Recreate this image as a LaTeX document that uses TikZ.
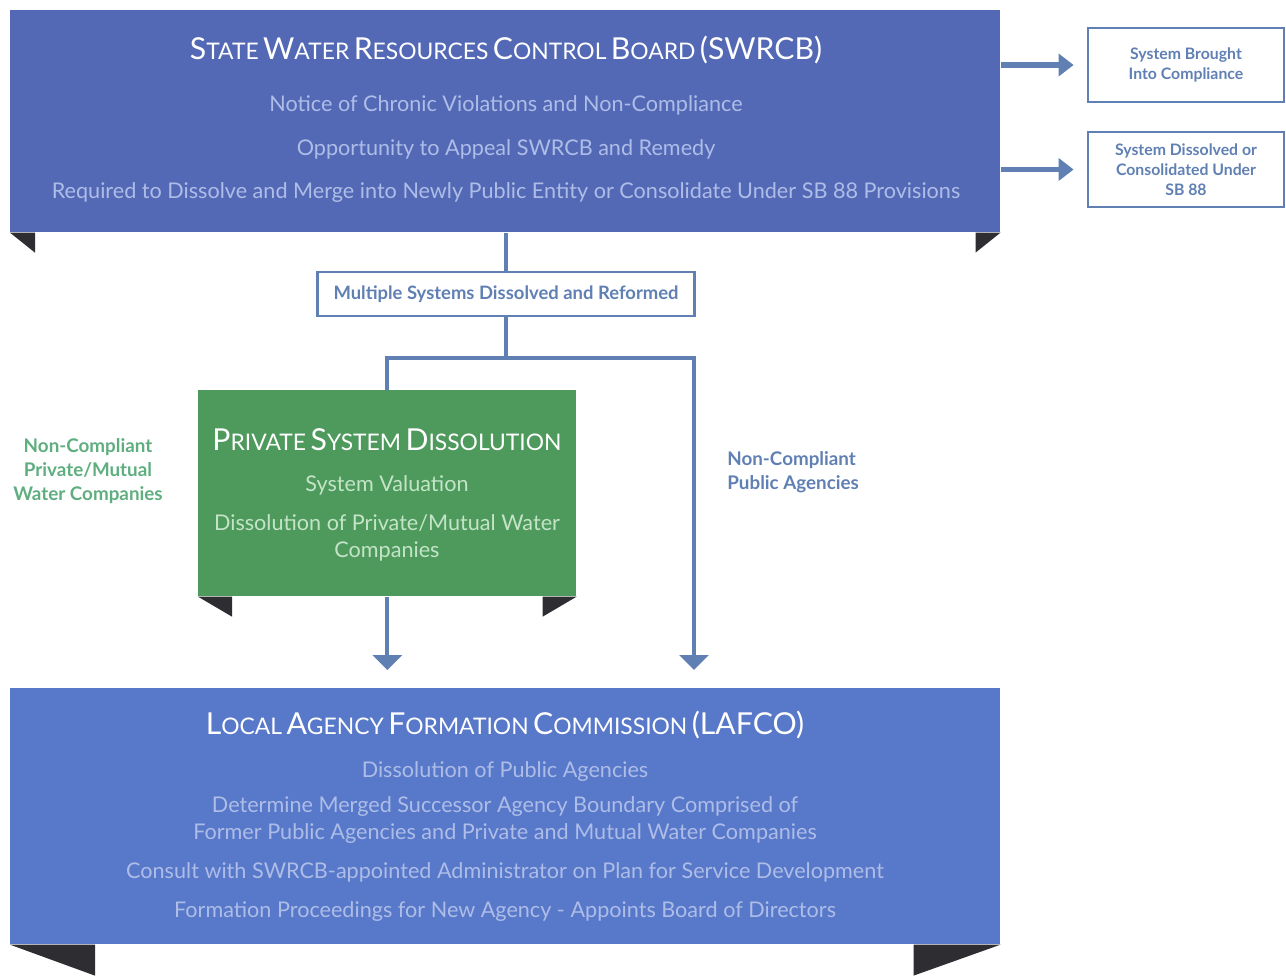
\documentclass[tikz,border=0pt]{standalone}
\usepackage{fontspec}
\setmainfont{Lato}
\usetikzlibrary{arrows.meta,positioning,calc}
\definecolor{azulpainel}{HTML}{5469B5}
\definecolor{azullafco}{HTML}{5878C9}
\definecolor{verdepainel}{HTML}{4E9A5C}
\definecolor{dobra}{HTML}{2E2E32}
\definecolor{linha}{HTML}{6080B4}
\definecolor{textoazul}{HTML}{AEBDE8}
\definecolor{textoverde}{HTML}{C4E4C8}
\definecolor{rotuloverde}{HTML}{5FAE80}
\tikzset{
  painel/.style={rectangle, fill=azulpainel, inner sep=0pt, anchor=north west},
  titulo/.style={text=white, inner sep=0pt},
  item/.style={text=textoazul, inner sep=0pt, align=center, font=\fontsize{12.3pt}{15pt}\selectfont},
  caixa/.style={rectangle, draw=linha, line width=1.6pt, fill=white, inner sep=0pt, align=center,
    text=linha, font=\bfseries\fontsize{9pt}{11.3pt}\selectfont},
  rotulo/.style={inner sep=0pt, font=\bfseries\fontsize{10.7pt}{13.8pt}\selectfont},
  ligacao/.style={draw=linha, line width=2.2pt},
  seta/.style={ligacao, -{Triangle[length=0.3cm, width=0.58cm]}},
  setagrossa/.style={draw=linha, line width=3pt, -{Triangle[length=0.3cm, width=0.44cm]}},
  aba/.style={fill=dobra},
}
\newcommand{\versal}[2]{{\fontsize{17.2pt}{20pt}\selectfont #1}{\fontsize{13pt}{16pt}\selectfont #2}}

\begin{document}
\begin{tikzpicture}[x=0.02cm, y=-0.02cm]
  \useasboundingbox (0,0) rectangle (1286,975);
  % paineis
  \node[painel, minimum width=19.8cm, minimum height=4.44cm] (swrcb) at (10,10) {};
  \node[painel, fill=verdepainel, minimum width=7.56cm, minimum height=4.12cm] (privado) at (198,390) {};
  \node[painel, fill=azullafco, minimum width=19.8cm, minimum height=5.12cm] (lafco) at (10,688) {};
  \fill[aba] (swrcb.south west) -- ++(25,0) -- ++(0,20) -- cycle;
  \fill[aba] (swrcb.south east) -- ++(-25,0) -- ++(0,20) -- cycle;
  \fill[aba] (privado.south west) -- ++(34,0) -- ++(0,20) -- cycle;
  \fill[aba] (privado.south east) -- ++(-34,0) -- ++(0,20) -- cycle;
  \fill[aba] (lafco.south west) -- ++(85,0) -- ++(0,31) -- cycle;
  \fill[aba] (lafco.south east) -- ++(-87,0) -- ++(0,31) -- cycle;
  % textos SWRCB
  \node[titulo] (t1) at (506,50) {\versal{S}{TATE} \versal{W}{ATER} \versal{R}{ESOURCES} \versal{C}{ONTROL} \versal{B}{OARD} {\fontsize{17.2pt}{20pt}\selectfont (SWRCB)}};
  \node[item] (t1a) at (506,105) {Notice of Chronic Violations and Non-Compliance};
  \node[item] (t1b) at (506,149) {Opportunity to Appeal SWRCB and Remedy};
  \node[item] (t1c) at (506,193) {Required to Dissolve and Merge into Newly Public Entity or Consolidate Under SB 88 Provisions};
  % textos privado
  \node[titulo] (t2) at (387,440) {\versal{P}{RIVATE} \versal{S}{YSTEM} \versal{D}{ISSOLUTION}};
  \node[item, text=textoverde] (t2a) at (387,485) {System Valuation};
  \node[item, text=textoverde] (t2b) at (387,538) {Dissolution of Private/Mutual Water\\Companies};
  % textos LAFCO
  \node[titulo] (t3) at (505,725) {\versal{L}{OCAL} \versal{A}{GENCY} \versal{F}{ORMATION} \versal{C}{OMMISSION} {\fontsize{17.2pt}{20pt}\selectfont (LAFCO)}};
  \node[item] (t3a) at (505,772) {Dissolution of Public Agencies};
  \node[item] (t3b) at (505,820) {Determine Merged Successor Agency Boundary Comprised of\\Former Public Agencies and Private and Mutual Water Companies};
  \node[item] (t3c) at (505,872) {Consult with SWRCB-appointed Administrator on Plan for Service Development};
  \node[item] (t3d) at (505,912) {Formation Proceedings for New Agency - Appoints Board of Directors};
  % caixas
  \node[caixa, minimum width=7.54cm, minimum height=0.88cm, font=\bfseries\fontsize{10.5pt}{12pt}\selectfont] (multi) at (506,294) {Multiple Systems Dissolved and Reformed};
  \node[caixa, minimum width=3.92cm, minimum height=1.48cm] (cumpre) at (1186,65) {System Brought\\Into Compliance};
  \node[caixa, minimum width=3.92cm, minimum height=1.5cm] (dissolve) at (1186,169.5) {System Dissolved or\\Consolidated Under\\SB 88};
  % rotulos
  \node[rotulo, text=rotuloverde, align=center] (privadas) at (88,471) {Non-Compliant\\Private/Mutual\\Water Companies};
  \node[rotulo, text=linha, align=left, anchor=west] (publicas) at (727,472) {Non-Compliant\\Public Agencies};
  % ligacoes
  \coordinate (ramo) at (506,358);
  \coordinate (pontaB) at (694,670);
  \draw[ligacao] (swrcb.south -| multi.north) -- (multi.north);
  \draw[ligacao] (multi.south) -- (ramo);
  \draw[ligacao] (privado.north) |- (ramo);
  \draw[seta] (ramo) -| (pontaB);
  \draw[seta] (privado.south) -- (privado.south |- pontaB);
  \draw[setagrossa, shorten >=0.26cm] (swrcb.east |- cumpre.west) -- (cumpre.west);
  \draw[setagrossa, shorten >=0.26cm] (swrcb.east |- dissolve.west) -- (dissolve.west);
\end{tikzpicture}
\end{document}
